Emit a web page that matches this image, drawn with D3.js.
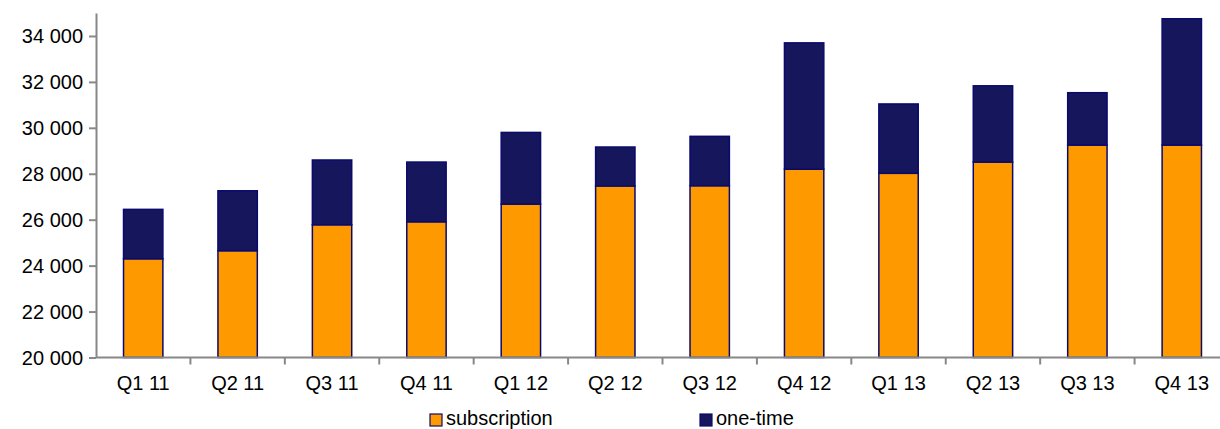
<!DOCTYPE html>
<html><head><meta charset="utf-8">
<script src="https://cdn.jsdelivr.net/npm/d3@7"></script>
<style>
body{margin:0;background:#fff;overflow:hidden}
text{font-family:"Liberation Sans",Arial,sans-serif;fill:#000}
</style></head>
<body>
<svg id="c" width="1220" height="429"></svg>
<script>
const categories = ["Q1 11","Q2 11","Q3 11","Q4 11","Q1 12","Q2 12","Q3 12","Q4 12","Q1 13","Q2 13","Q3 13","Q4 13"];
const subscription = [24300,24650,25780,25910,26680,27470,27480,28200,28020,28510,29250,29250];
const total = [26450,27260,28600,28510,29800,29165,29630,33700,31040,31830,31530,34750];
const oneTime = total.map((t,i)=>t-subscription[i]);
const yTicks = [20000,22000,24000,26000,28000,30000,32000,34000];
const seriesNames = ["subscription","one-time"];
const colors = ["#FF9900","#16165C"];

const svg = d3.select("#c");
const x = d3.scaleBand().domain(categories).range([96,1229]).paddingInner(0.583).paddingOuter(0.2915);
const xb = d3.scaleBand().domain(categories).range([96,1229]);
const y = d3.scaleLinear().domain([20000,35000]).range([357.5,13]);

const data = categories.map((c,i)=>({cat:c, subscription:subscription[i], "one-time":oneTime[i]}));
const stack = d3.stack().keys(seriesNames)(data);

stack.forEach((s,si)=>{
  svg.append("g").selectAll("rect").data(s).join("rect")
    .attr("x",d=>x(d.data.cat))
    .attr("width",x.bandwidth())
    .each(function(d){
      const lo = si===0 ? 20000 : d[0];
      const hi = d[1];
      d3.select(this).attr("y",y(hi)).attr("height",y(lo)-y(hi));
    })
    .attr("fill",colors[si])
    .attr("stroke","#0A0A6E")
    .attr("stroke-width",1.5);
});

// y axis
const ya = svg.append("g").attr("transform","translate(96,0)")
  .call(d3.axisLeft(y).tickValues(yTicks).tickSize(7).tickSizeOuter(0).tickPadding(6)
    .tickFormat(d=>d3.format(",")(d).replace(/,/g," ")));
ya.selectAll("text").style("font-size","20px").attr("dy","0.35em");
ya.selectAll("line,path").attr("stroke","#888").attr("stroke-width",2);

// x axis
const xa = svg.append("g").attr("transform","translate(0,357.5)");
xa.append("line").attr("x1",96).attr("x2",1229).attr("stroke","#888").attr("stroke-width",2);
xa.selectAll("line.t").data(categories).join("line").attr("class","t")
  .attr("x1",d=>xb(d)+xb.bandwidth()).attr("x2",d=>xb(d)+xb.bandwidth())
  .attr("y1",0).attr("y2",7).attr("stroke","#888").attr("stroke-width",2);
xa.selectAll("text").data(categories).join("text")
  .attr("x",d=>xb(d)+xb.bandwidth()/2).attr("y",32)
  .attr("text-anchor","middle").style("font-size","20px").text(d=>d);

// legend
const legX = [430,700];
seriesNames.forEach((n,i)=>{
  svg.append("rect").attr("x",legX[i]).attr("y",414).attr("width",12).attr("height",12)
    .attr("fill",colors[i]).attr("stroke","#0A0A6E").attr("stroke-width",1.2);
  svg.append("text").attr("x",legX[i]+16).attr("y",425).style("font-size","20px").text(n);
});
</script>
</body></html>
